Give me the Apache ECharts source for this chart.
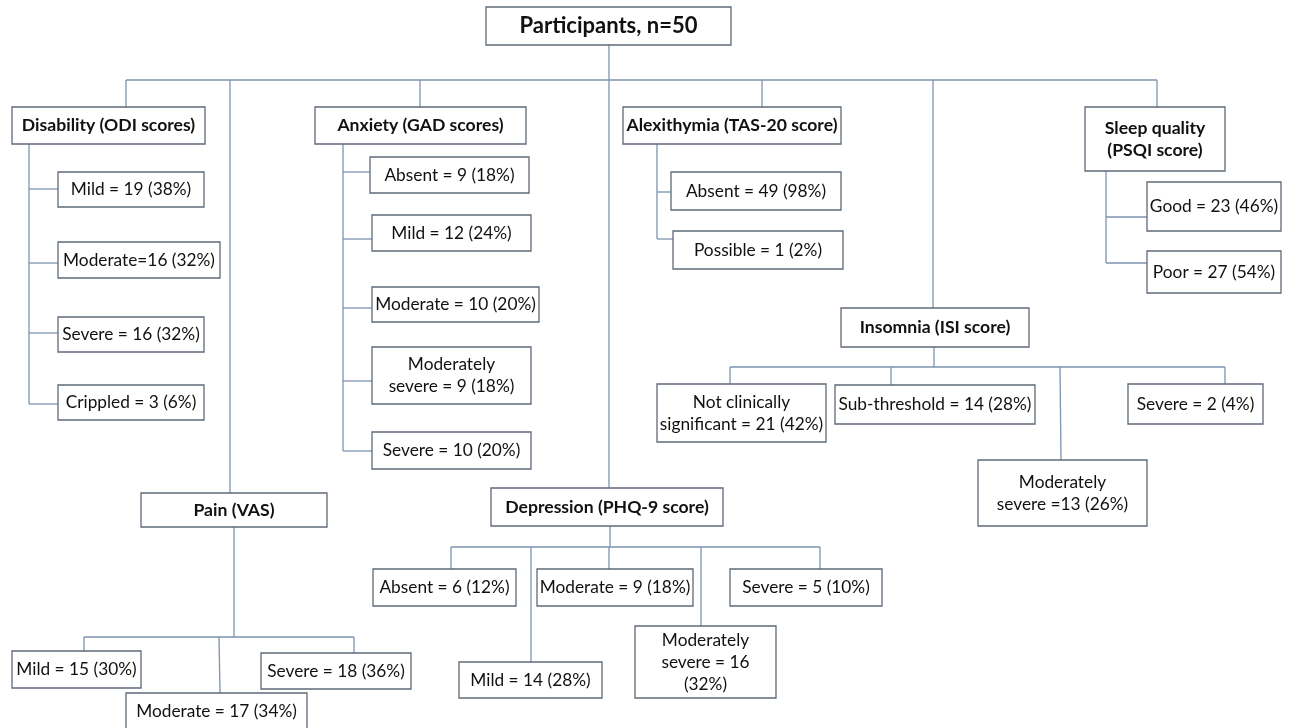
<!DOCTYPE html>
<html>
<head>
<meta charset="utf-8">
<script src="https://cdn.jsdelivr.net/npm/echarts@6/dist/echarts.min.js"></script>
<style>
html,body{margin:0;padding:0;background:#fff;}
#chart{width:1292px;height:728px;}
</style>
</head>
<body>
<div id="chart"></div>
<script>
// ---------- DATA (text content of the flowchart) ----------
const rootLabel = 'Participants, n=50';
const groupLabels = ['Disability (ODI scores)', 'Anxiety (GAD scores)', 'Alexithymia (TAS-20 score)',
  'Sleep quality\n(PSQI score)', 'Insomnia (ISI score)', 'Pain (VAS)', 'Depression (PHQ-9 score)'];
const disabilityLabels = ['Mild = 19 (38%)', 'Moderate=16 (32%)', 'Severe = 16 (32%)', 'Crippled = 3 (6%)'];
const anxietyLabels = ['Absent = 9 (18%)', 'Mild = 12 (24%)', 'Moderate = 10 (20%)', 'Moderately\nsevere = 9 (18%)', 'Severe = 10 (20%)'];
const alexithymiaLabels = ['Absent = 49 (98%)', 'Possible = 1 (2%)'];
const sleepLabels = ['Good = 23 (46%)', 'Poor = 27 (54%)'];
const insomniaLabels = ['Not clinically\nsignificant = 21 (42%)', 'Sub-threshold = 14 (28%)', 'Moderately\nsevere =13 (26%)', 'Severe = 2 (4%)'];
const painLabels = ['Mild = 15 (30%)', 'Moderate = 17 (34%)', 'Severe = 18 (36%)'];
const depressionLabels = ['Absent = 6 (12%)', 'Moderate = 9 (18%)', 'Severe = 5 (10%)', 'Mild = 14 (28%)', 'Moderately\nsevere = 16\n(32%)'];

// ---------- LAYOUT (box rectangles [x1, y1, x2, y2] in chart units) ----------
const rootBox = [486, 7, 731, 45];
const groupBoxes = [[12, 107, 205, 144], [315, 107, 526, 144], [623, 107, 841, 144],
  [1085, 107, 1225, 171], [841, 308, 1029, 347], [141, 493, 327, 527], [491, 488, 723, 526]];
const disabilityBoxes = [[58, 172, 204, 207], [58, 242, 220, 278], [58, 317, 204, 352], [58, 385, 204, 420]];
const anxietyBoxes = [[370, 157, 529, 193], [372, 215, 531, 251], [372, 287, 539, 322], [372, 347, 531, 404], [372, 432, 531, 469]];
const alexithymiaBoxes = [[671, 172, 841, 210], [673, 231, 843, 269]];
const sleepBoxes = [[1147, 182, 1281, 231], [1147, 251, 1281, 293]];
const insomniaBoxes = [[657, 384, 826, 442], [835, 385, 1035, 424], [978, 460, 1147, 526], [1128, 384, 1263, 424]];
const painBoxes = [[12, 651, 141, 688], [126, 693, 307, 740], [261, 653, 411, 689]];
const depressionBoxes = [[373, 569, 516, 606], [537, 569, 693, 606], [730, 569, 882, 606], [459, 662, 602, 698], [635, 626, 776, 698]];

// connector polylines
const connectors = [
  [[609, 45], [609, 488]],
  [[126, 80], [1157, 80]],
  [[126, 80], [126, 107]], [[230, 80], [230, 493]], [[420, 80], [420, 107]],
  [[762, 80], [762, 107]], [[933, 80], [933, 308]], [[1157, 80], [1157, 107]],
  // disability
  [[29, 144], [29, 404]], [[29, 189], [58, 189]], [[29, 263], [58, 263]], [[29, 333], [58, 333]], [[29, 404], [58, 404]],
  // anxiety
  [[343, 144], [343, 451]], [[343, 172], [370, 172]], [[343, 239], [372, 239]], [[343, 308], [372, 308]],
  [[343, 381], [372, 381]], [[343, 451], [372, 451]],
  // alexithymia
  [[657, 144], [657, 239]], [[657, 192], [671, 192]], [[657, 239], [673, 239]],
  // sleep
  [[1106, 171], [1106, 263]], [[1106, 217], [1147, 217]], [[1106, 263], [1147, 263]],
  // insomnia
  [[934, 347], [934, 367]], [[730, 367], [1225, 367]],
  [[730, 367], [730, 384]], [[891, 367], [891, 385]], [[1060, 367], [1061, 460]], [[1225, 367], [1225, 384]],
  // pain
  [[234, 527], [234, 637]], [[84, 637], [354, 637]],
  [[84, 637], [84, 651]], [[219, 637], [220, 693]], [[354, 637], [354, 653]],
  // depression
  [[610, 526], [610, 547]], [[451, 547], [820, 547]],
  [[451, 547], [451, 569]], [[531, 547], [531, 662]], [[609, 547], [609, 569]], [[701, 547], [701, 626]], [[820, 547], [820, 569]]
];

// ---------- build node list ----------
const nodes = [];
function addNodes(labels, boxes, kind) {
  labels.forEach((t, i) => nodes.push({ text: t, box: boxes[i], kind: kind }));
}
addNodes([rootLabel], [rootBox], 'root');
addNodes(groupLabels, groupBoxes, 'group');
addNodes(disabilityLabels, disabilityBoxes, 'leaf');
addNodes(anxietyLabels, anxietyBoxes, 'leaf');
addNodes(alexithymiaLabels, alexithymiaBoxes, 'leaf');
addNodes(sleepLabels, sleepBoxes, 'leaf');
addNodes(insomniaLabels, insomniaBoxes, 'leaf');
addNodes(painLabels, painBoxes, 'leaf');
addNodes(depressionLabels, depressionBoxes, 'leaf');

const FONT = 'Lato, "Open Sans", sans-serif';
const BORDER = '#5f6a78';
const LINE = '#7d93b0';

const chart = echarts.init(document.getElementById('chart'));
chart.setOption({
  backgroundColor: '#ffffff',
  animation: false,
  grid: { left: 0, right: 0, top: 0, bottom: 0 },
  xAxis: { type: 'value', min: 0, max: 1292, show: false },
  yAxis: { type: 'value', min: 0, max: 728, inverse: true, show: false },
  series: [
    {
      type: 'custom',
      coordinateSystem: 'cartesian2d',
      silent: true,
      z: 1,
      data: connectors.map((c, i) => [c[0][0], c[0][1], i]),
      renderItem: function (params, api) {
        const c = connectors[api.value(2)];
        return {
          type: 'polyline',
          shape: { points: c.map(p => api.coord(p)) },
          style: { stroke: LINE, lineWidth: 1.3, fill: null }
        };
      }
    },
    {
      type: 'custom',
      coordinateSystem: 'cartesian2d',
      silent: true,
      z: 2,
      data: nodes.map((n, i) => [n.box[0], n.box[1], i]),
      renderItem: function (params, api) {
        const n = nodes[api.value(2)];
        const p1 = api.coord([n.box[0], n.box[1]]);
        const p2 = api.coord([n.box[2], n.box[3]]);
        const cx = (p1[0] + p2[0]) / 2;
        const bold = n.kind !== 'leaf';
        const size = n.kind === 'root' ? 22 : (bold ? 17.6 : 17.3);
        let ty = (p1[1] + p2[1]) / 2;
        if (n.box[3] > 728) ty = p1[1] + 18;
        return {
          type: 'group',
          children: [
            {
              type: 'rect',
              shape: { x: p1[0], y: p1[1], width: p2[0] - p1[0], height: p2[1] - p1[1] },
              style: { fill: '#ffffff', stroke: BORDER, lineWidth: 1.3 }
            },
            {
              type: 'text',
              style: {
                text: n.text,
                x: cx,
                y: ty,
                align: 'center',
                verticalAlign: 'middle',
                fill: '#111111',
                font: (bold ? 'bold ' : '') + size + 'px ' + FONT,
                lineHeight: 22
              }
            }
          ]
        };
      }
    }
  ]
});
</script>
</body>
</html>
